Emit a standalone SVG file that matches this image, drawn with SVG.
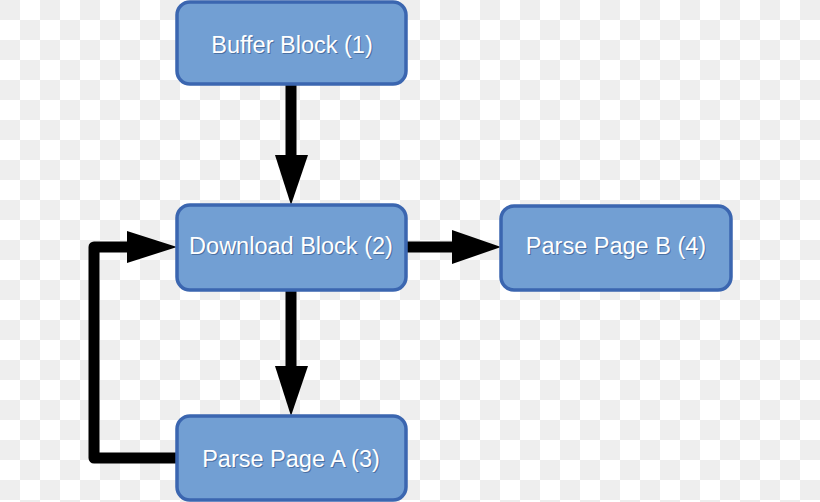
<svg xmlns="http://www.w3.org/2000/svg" width="820" height="502" viewBox="0 0 820 502">
<defs>
<pattern id="checker" width="40" height="40" patternUnits="userSpaceOnUse">
<rect width="40" height="40" fill="#ffffff"/>
<rect x="0" y="0" width="20" height="20" fill="#eeeeee"/>
<rect x="20" y="20" width="20" height="20" fill="#eeeeee"/>
</pattern>
<style>
.box{fill:#729fd3;stroke:#3b66b0;stroke-width:3.5}
.lbl{font-family:"Liberation Sans",Arial,sans-serif;font-size:23.5px;text-anchor:middle;fill:#ffffff}
.sh{font-family:"Liberation Sans",Arial,sans-serif;font-size:23.5px;text-anchor:middle;fill:#2d4a7a;opacity:0.55}
.line{fill:none;stroke:#000000;stroke-width:11;stroke-linejoin:round}
.head{fill:#000000}
</style>
</defs>
<rect width="820" height="502" fill="url(#checker)"/>
<g id="connectors">
<line class="line" x1="291" y1="85" x2="291" y2="160"/>
<polygon class="head" points="275,155 308,155 291,205"/>
<line class="line" x1="291" y1="291" x2="291" y2="370"/>
<polygon class="head" points="275,366 308,366 291,416"/>
<line class="line" x1="406" y1="247" x2="457" y2="247"/>
<polygon class="head" points="452,230 452,264 501,247"/>
<polyline class="line" points="177,458 94,458 94,247 132,247"/>
<polygon class="head" points="127,231 127,263 177,247"/>
</g>
<g id="node1">
<rect class="box" x="177" y="2" width="229" height="82" rx="13"/>
<text class="sh" x="293" y="54">Buffer Block (1)</text>
<text class="lbl" x="292" y="53">Buffer Block (1)</text>
</g>
<g id="node2">
<rect class="box" x="177" y="205" width="229" height="85" rx="13"/>
<text class="sh" x="292" y="255">Download Block (2)</text>
<text class="lbl" x="291" y="254">Download Block (2)</text>
</g>
<g id="node4">
<rect class="box" x="501" y="206" width="230" height="84" rx="13"/>
<text class="sh" x="617" y="255">Parse Page B (4)</text>
<text class="lbl" x="616" y="254">Parse Page B (4)</text>
</g>
<g id="node3">
<rect class="box" x="177" y="416" width="229" height="84" rx="13"/>
<text class="sh" x="292" y="468">Parse Page A (3)</text>
<text class="lbl" x="291" y="467">Parse Page A (3)</text>
</g>
</svg>
